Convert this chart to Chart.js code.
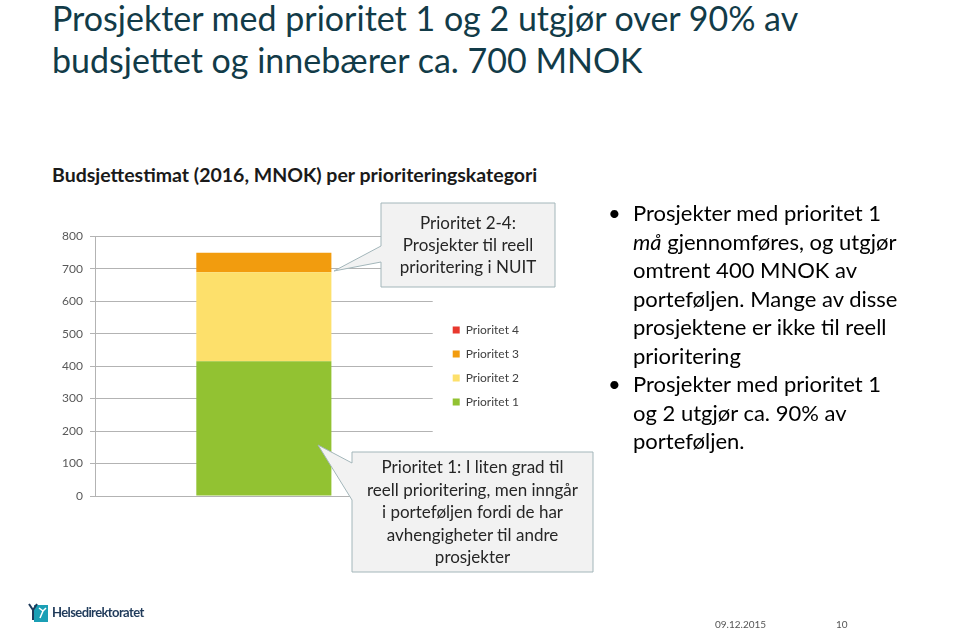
<!DOCTYPE html>
<html lang="no">
<head>
<meta charset="utf-8">
<title>Prosjekter med prioritet 1 og 2</title>
<script src="https://cdn.jsdelivr.net/npm/chart.js@4.4.0/dist/chart.umd.min.js"></script>
<style>
  html, body { margin: 0; padding: 0; background: #fff; }
  body { width: 959px; height: 630px; position: relative; overflow: hidden; font-family: Lato, "Open Sans", sans-serif; }
  .title { position: absolute; left: 52px; top: -3px; font-size: 34px; line-height: 42px; color: #123b48; }
  .subtitle { position: absolute; left: 52px; top: 163px; font-size: 19.5px; font-weight: bold; color: #1a1a1a; }
  #chartWrap { position: absolute; left: 40px; top: 222px; width: 481px; height: 290px; }
  #callouts { position: absolute; left: 0; top: 0; width: 959px; height: 630px; pointer-events: none; }
  .callout { position: absolute; text-align: center; font-size: 17px; line-height: 22px; color: #262626; }
  .bullets { position: absolute; left: 608px; top: 199px; width: 350px; margin: 0; padding: 0; list-style: none; font-size: 22px; line-height: 28.5px; color: #000; }
  .bullets li { position: relative; padding-left: 25px; }
  .bullets li::before { content: "\2022"; position: absolute; left: 0; top: 0; }
  .footer-logo { position: absolute; left: 28px; top: 602px; display: flex; align-items: center; gap: 4px; font-size: 13px; font-weight: bold; color: #1f3a5a; letter-spacing: -0.6px; }
  .footer-date { position: absolute; left: 715px; top: 618px; font-size: 10px; color: #555; }
  .footer-page { position: absolute; left: 836px; top: 618px; font-size: 10px; color: #555; }
</style>
</head>
<body>
<div class="title">Prosjekter med prioritet 1 og 2 utgjør over 90% av<br>budsjettet og innebærer ca. 700 MNOK</div>
<div class="subtitle">Budsjettestimat (2016, MNOK) per prioriteringskategori</div>

<div id="chartWrap"><canvas id="budgetChart"></canvas></div>

<svg id="callouts" viewBox="0 0 959 630">
  <path d="M381,203 L555,203 L555,287 L381,287 L381,262 L334,271 L381,246 Z" fill="#f2f2f2" stroke="#a3b6ba" stroke-width="1"/>
  <path d="M352,452 L593,452 L593,572 L352,572 L352,500 L318,445 L352,463 Z" fill="#f2f2f2" stroke="#a3b6ba" stroke-width="1"/>
</svg>
<div class="callout" style="left:381px; top:212px; width:174px;">Prioritet 2-4:<br>Prosjekter til reell<br>prioritering i NUIT</div>
<div class="callout" style="left:352px; top:456px; width:241px; line-height:22.5px;">Prioritet 1: I liten grad til<br>reell prioritering, men inngår<br>i porteføljen fordi de har<br>avhengigheter til andre<br>prosjekter</div>

<ul class="bullets">
  <li>Prosjekter med prioritet 1<br><i>må</i> gjennomføres, og utgjør<br>omtrent 400 MNOK av<br>porteføljen. Mange av disse<br>prosjektene er ikke til reell<br>prioritering</li>
  <li>Prosjekter med prioritet 1<br>og 2 utgjør ca. 90% av<br>porteføljen.</li>
</ul>

<div class="footer-logo">
  <svg width="20" height="20" viewBox="0 0 20 20">
    <rect x="6" y="3" width="14" height="17" fill="#1b9fb5"/>
    <path d="M1,2 L5,8 L9,2 M5,8 L5,18" stroke="#1f3a5a" stroke-width="2" fill="none"/>
    <path d="M11,6 L15,9 L12,16 M15,9 L18,6" stroke="#fff" stroke-width="1.5" fill="none"/>
  </svg>
  <span>Helsedirektoratet</span>
</div>
<div class="footer-date">09.12.2015</div>
<div class="footer-page">10</div>

<script>
// Budsjettestimat 2016 (MNOK) per prioriteringskategori
const categories = ['2016'];
const seriesNames = ['Prioritet 1', 'Prioritet 2', 'Prioritet 3', 'Prioritet 4'];
const prioritet1 = [415];
const prioritet2 = [274];
const prioritet3 = [60];
const prioritet4 = [0];
const seriesColors = ['#92c232', '#fde06b', '#f29c0e', '#e8382e'];
const yTicks = [0, 100, 200, 300, 400, 500, 600, 700, 800];

const seriesValues = [prioritet1, prioritet2, prioritet3, prioritet4];

const datasets = seriesNames.map((name, idx) => ({
  label: name,
  data: seriesValues[idx],
  backgroundColor: seriesColors[idx],
  borderWidth: 0,
  categoryPercentage: 1,
  barPercentage: 0.4,
}));

// nudge the legend a bit away from the plot, like the original slide
const legendOffset = {
  id: 'legendOffset',
  afterLayout(chart) {
    if (!chart.legend) return;
    chart.legend.left += 8;
    chart.legend.right += 8;
  },
};

new Chart(document.getElementById('budgetChart').getContext('2d'), {
  type: 'bar',
  data: { labels: categories, datasets },
  plugins: [legendOffset],
  options: {
    responsive: true,
    maintainAspectRatio: false,
    animation: false,
    layout: { padding: { top: 14, bottom: 16, left: 0, right: 0 } },
    plugins: {
      legend: {
        position: 'right',
        reverse: true,
        labels: {
          boxWidth: 7,
          boxHeight: 7,
          padding: 12,
          color: '#404040',
          font: { family: 'Lato, sans-serif', size: 12 },
        },
      },
      tooltip: { enabled: false },
    },
    scales: {
      x: { stacked: true, display: false },
      y: {
        stacked: true,
        min: 0,
        max: 800,
        afterFit: (scale) => { scale.width = 55; },
        afterBuildTicks: (scale) => { scale.ticks = yTicks.map((v) => ({ value: v })); },
        ticks: {
          padding: 7,
          color: '#595959',
          font: { family: 'Lato, sans-serif', size: 12 },
        },
        grid: { color: '#b3b3b3', tickLength: 5 },
        border: { display: true, color: '#b3b3b3' },
      },
    },
  },
});
</script>
</body>
</html>
